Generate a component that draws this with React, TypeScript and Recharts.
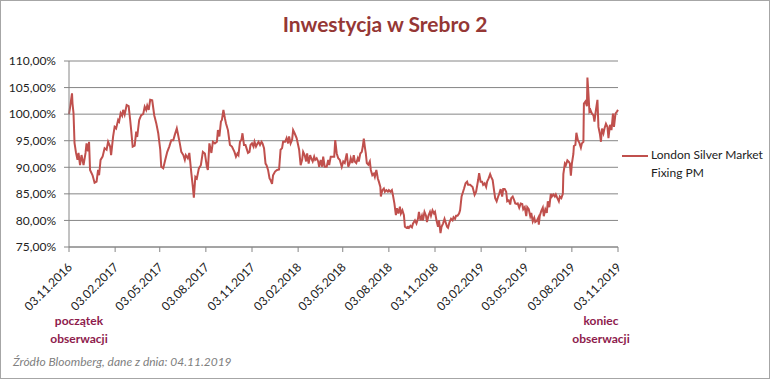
import { CartesianGrid, Legend, Line, LineChart, XAxis, YAxis } from "recharts"

const FONT = "Lato, 'Open Sans', sans-serif"
const LINE_COLOR = "#C0504D"
const GRID_COLOR = "#868686"
const NOTE_COLOR = "#8E1B4C"

// day offset from 03.11.2016
const days = [
  0, 2, 6, 7, 9, 11, 14, 17, 19, 22, 25, 29, 33, 35, 38, 40, 42, 47, 51, 55, 58, 60, 63, 67, 71, 75, 78, 82, 84, 88,
  91, 94, 98, 100, 103, 106, 108, 111, 115, 119, 122, 124, 127, 131, 134, 136, 140, 144, 148, 151, 154, 156, 159, 162, 166, 170, 174, 178, 182, 184,
  188, 192, 196, 200, 204, 208, 211, 215, 217, 221, 224, 228, 231, 233, 237, 240, 244, 247, 249, 252, 255, 259, 263, 267, 271, 275, 277, 280, 284, 287,
  291, 295, 297, 300, 303, 305, 308, 311, 313, 317, 321, 325, 330, 333, 336, 338, 341, 344, 346, 349, 352, 354, 357, 360, 362, 365, 368, 370, 373, 376,
  378, 381, 384, 386, 389, 392, 394, 397, 400, 402, 405, 407, 411, 415, 419, 422, 425, 427, 431, 434, 437, 439, 442, 445, 447, 450, 454, 457, 459, 462,
  465, 467, 470, 473, 475, 478, 481, 483, 486, 489, 491, 494, 497, 499, 502, 505, 507, 510, 514, 517, 519, 522, 526, 529, 531, 534, 537, 540, 544, 547,
  550, 554, 557, 560, 562, 565, 568, 570, 573, 576, 578, 581, 584, 586, 588, 590, 592, 594, 597, 600, 602, 605, 608, 610, 613, 616, 618, 621, 622, 625,
  628, 630, 633, 636, 638, 641, 644, 646, 649, 652, 654, 657, 660, 662, 665, 668, 670, 673, 676, 678, 681, 684, 686, 690, 693, 696, 698, 701, 704, 706,
  709, 712, 714, 717, 720, 722, 725, 728, 730, 733, 736, 738, 741, 743, 746, 749, 751, 754, 756, 759, 762, 765, 767, 770, 772, 775, 778, 780, 783, 786,
  788, 791, 794, 796, 800, 805, 809, 812, 816, 818, 821, 824, 826, 829, 832, 834, 837, 840, 842, 845, 848, 850, 853, 856, 858, 861, 864, 866, 869, 872,
  874, 877, 880, 882, 885, 888, 890, 893, 895, 898, 901, 904, 906, 909, 912, 914, 917, 920, 922, 925, 928, 930, 933, 936, 937, 939, 942, 945, 947, 950,
  953, 955, 958, 961, 963, 966, 969, 971, 974, 977, 979, 982, 985, 986, 989, 991, 994, 997, 999, 1001, 1003, 1006, 1007, 1010, 1012, 1015, 1018, 1021, 1023, 1026,
  1027, 1030, 1033, 1034, 1036, 1038, 1040, 1043, 1046, 1048, 1051, 1054, 1056, 1059, 1061, 1063, 1066, 1068, 1071, 1074, 1076, 1079, 1082, 1085, 1087, 1090, 1093, 1095,
]

// London Silver Market Fixing PM, % of the starting value
const fixingPM = [
  100.0, 101.2, 103.9, 102.0, 100.2, 94.6, 92.7, 91.4, 92.7, 90.4, 92.3, 90.4, 92.7, 94.5, 93.0, 94.8, 89.5, 88.5, 87.1, 87.3, 89.5, 88.5, 91.4, 92.0, 93.6, 93.3, 94.8, 93.9, 92.3, 95.8,
  97.6, 97.3, 98.9, 98.6, 100.2, 99.7, 100.8, 99.9, 101.7, 101.5, 98.9, 97.0, 93.9, 94.1, 96.7, 95.7, 98.9, 99.8, 100.0, 101.4, 100.8, 101.6, 100.8, 102.7, 102.6, 99.8, 98.3, 96.4, 93.3, 90.1,
  89.8, 91.4, 92.9, 93.9, 95.1, 95.1, 96.1, 97.3, 96.4, 94.5, 92.9, 92.3, 91.4, 92.3, 91.7, 92.7, 88.9, 86.3, 84.3, 88.2, 87.9, 89.8, 90.4, 92.9, 92.6, 90.1, 89.5, 94.5, 92.7, 94.8,
  94.5, 94.8, 97.0, 95.8, 98.6, 98.9, 100.8, 99.2, 98.3, 97.0, 94.2, 93.9, 92.9, 92.0, 92.6, 92.3, 94.8, 95.2, 96.4, 94.2, 94.2, 93.6, 92.7, 92.9, 94.2, 94.5, 93.9, 94.8, 93.9, 94.5,
  94.8, 94.2, 94.8, 94.5, 93.6, 90.7, 90.4, 89.5, 87.9, 87.6, 86.9, 88.5, 89.2, 89.5, 89.6, 93.3, 93.6, 94.8, 94.8, 95.5, 94.5, 95.8, 94.5, 95.2, 97.0, 96.4, 95.5, 94.2, 93.3, 90.4,
  91.4, 92.9, 92.3, 91.1, 92.6, 90.7, 92.3, 91.7, 91.1, 92.0, 91.4, 91.7, 91.1, 90.1, 91.4, 90.1, 92.0, 90.1, 90.1, 91.4, 90.4, 92.0, 92.0, 92.0, 95.1, 92.6, 91.7, 91.4, 90.1, 91.1,
  90.8, 92.6, 90.1, 90.8, 91.7, 90.8, 92.3, 91.1, 90.8, 91.7, 91.1, 92.6, 92.9, 93.9, 95.4, 93.9, 92.6, 90.8, 90.5, 91.1, 89.5, 88.5, 88.8, 88.2, 89.5, 87.9, 87.3, 86.3, 84.5, 85.7,
  86.0, 85.4, 85.7, 85.4, 85.7, 85.4, 85.7, 84.8, 83.2, 81.0, 82.3, 81.3, 82.6, 81.3, 81.9, 81.0, 78.8, 78.6, 78.8, 78.6, 79.0, 78.7, 79.4, 80.0, 79.4, 80.3, 81.6, 80.0, 80.9, 80.0,
  81.6, 80.9, 79.7, 80.9, 81.6, 80.9, 81.9, 81.3, 81.6, 80.0, 78.8, 80.0, 77.6, 78.8, 79.4, 80.3, 79.7, 78.8, 78.6, 79.7, 80.3, 80.0, 80.6, 80.3, 80.9, 80.9, 81.3, 81.9, 84.5, 85.4,
  86.0, 87.0, 87.3, 86.7, 86.7, 86.3, 84.8, 85.4, 87.6, 88.9, 87.3, 87.3, 86.7, 87.0, 86.3, 87.3, 87.9, 88.7, 88.2, 87.6, 85.5, 84.2, 83.6, 84.5, 85.0, 85.9, 84.5, 85.9, 85.9, 85.4,
  83.6, 83.8, 83.0, 84.2, 84.5, 83.8, 83.2, 83.1, 83.2, 82.4, 83.2, 83.1, 82.1, 82.5, 80.8, 82.5, 82.1, 80.8, 81.4, 79.8, 80.5, 79.7, 79.9, 80.5, 79.2, 80.9, 81.8, 82.4, 80.8, 82.1,
  81.4, 83.6, 82.5, 85.0, 84.5, 84.9, 84.5, 84.9, 84.2, 83.6, 84.5, 84.2, 85.0, 88.7, 90.7, 90.4, 91.3, 91.0, 90.7, 88.4, 90.7, 92.5, 94.0, 94.2, 96.5, 95.1, 94.6, 93.7, 94.5, 94.8,
  102.0, 102.4, 101.5, 106.9, 103.9, 100.5, 100.8, 100.1, 99.8, 98.6, 100.8, 102.7, 97.6, 96.2, 94.8, 97.3, 96.4, 97.3, 98.2, 97.6, 95.5, 98.0, 97.0, 100.1, 97.6, 100.1, 100.5, 100.8,
]

const tickDays = [0, 92, 181, 273, 365, 457, 546, 638, 730, 822, 911, 1003, 1095]
const tickLabels = [
  "03.11.2016", "03.02.2017", "03.05.2017", "03.08.2017", "03.11.2017", "03.02.2018", "03.05.2018",
  "03.08.2018", "03.11.2018", "03.02.2019", "03.05.2019", "03.08.2019", "03.11.2019",
]
const yTicks = [75, 80, 85, 90, 95, 100, 105, 110]

const seriesName = "London Silver Market Fixing PM"

const chartData = days.map((day, i) => ({ day, value: fixingPM[i] }))

const formatPct = (v: number) => `${v.toFixed(2).replace(".", ",")}%`

function DateTick(props: any) {
  const { x, y, payload } = props
  const idx = tickDays.indexOf(payload.value)
  const ax = x + 4
  const ay = y + 16
  return (
    <text
      x={ax}
      y={ay}
      transform={`rotate(-45, ${ax}, ${ay})`}
      textAnchor="end"
      fontSize={12}
      fontFamily={FONT}
      fill="#222"
    >
      {idx >= 0 ? tickLabels[idx] : ""}
    </text>
  )
}

const renderLegend = () => (
  <div
    style={{
      width: 150,
      paddingLeft: 4,
      boxSizing: "border-box",
      display: "flex",
      alignItems: "flex-start",
      fontFamily: FONT,
      fontSize: 12,
      color: "#222",
      lineHeight: "18px",
    }}
  >
    <span style={{ display: "inline-block", width: 26, height: 2, background: LINE_COLOR, marginTop: 9, marginRight: 3 }} />
    <span>
      London Silver Market
      <br />
      Fixing PM
    </span>
  </div>
)

export default function App() {
  return (
    <div
      style={{
        position: "absolute",
        top: 0,
        left: 0,
        width: 770,
        height: 379,
        boxSizing: "border-box",
        border: "1px solid #a6a6a6",
        background: "#fff",
        fontFamily: FONT,
      }}
    >
      <LineChart
        width={768}
        height={377}
        data={chartData}
        margin={{ top: 60, right: 1, bottom: 0, left: 0 }}
        style={{ position: "absolute", top: 0, left: 0 }}
      >
        <CartesianGrid vertical={false} stroke={GRID_COLOR} />
        <XAxis
          dataKey="day"
          type="number"
          domain={[0, 1095]}
          ticks={tickDays}
          interval={0}
          height={131}
          stroke={GRID_COLOR}
          tickSize={5}
          tickMargin={0}
          tick={<DateTick />}
        />
        <YAxis
          type="number"
          domain={[75, 110]}
          ticks={yTicks}
          interval={0}
          width={68}
          stroke={GRID_COLOR}
          tickSize={5}
          tickMargin={8}
          tickFormatter={formatPct}
          tick={{ fill: "#222", fontSize: 12, fontFamily: FONT }}
        />
        <Legend
          layout="vertical"
          align="right"
          verticalAlign="top"
          content={renderLegend}
          wrapperStyle={{ top: 145 }}
        />
        <Line
          type="linear"
          dataKey="value"
          name={seriesName}
          stroke={LINE_COLOR}
          strokeWidth={2}
          dot={false}
          isAnimationActive={false}
        />
      </LineChart>

      <div
        style={{
          position: "absolute",
          top: 10,
          left: 0,
          width: 768,
          textAlign: "center",
          fontSize: 21,
          fontWeight: 700,
          color: "#953735",
        }}
      >
        Inwestycja w Srebro 2
      </div>

      <div style={{ position: "absolute", top: 311, left: 28, width: 100, textAlign: "center", fontSize: 12, fontWeight: 700, color: NOTE_COLOR, lineHeight: "18px" }}>
        początek
        <br />
        obserwacji
      </div>
      <div style={{ position: "absolute", top: 311, left: 550, width: 100, textAlign: "center", fontSize: 12, fontWeight: 700, color: NOTE_COLOR, lineHeight: "18px" }}>
        koniec
        <br />
        obserwacji
      </div>

      <div style={{ position: "absolute", top: 353, left: 12, fontSize: 12, fontStyle: "italic", color: "#808080" }}>
        Źródło Bloomberg, dane z dnia: 04.11.2019
      </div>
    </div>
  )
}
